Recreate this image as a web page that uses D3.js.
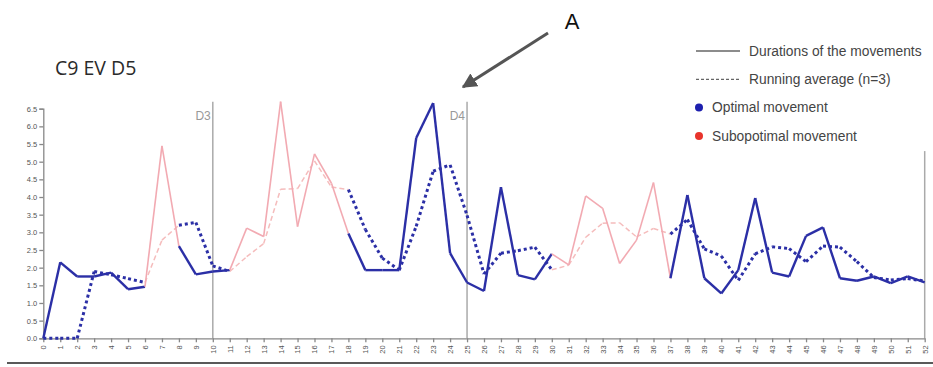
<!DOCTYPE html>
<html>
<head>
<meta charset="utf-8">
<script src="https://cdn.jsdelivr.net/npm/d3@7"></script>
<style>
  body { margin: 0; background: #fff; }
  svg { display: block; font-family: "Liberation Sans", Arial, sans-serif; }
</style>
</head>
<body>
<svg id="chart" width="933" height="367"></svg>
<script>
// movement index 0..52
const movements = d3.range(0, 53);

// duration of each movement (s)
const durations = [
  0.00, 2.15, 1.75, 1.75, 1.86, 1.39, 1.46, 5.45, 2.61, 1.81,
  1.89, 1.93, 3.12, 2.88, 6.70, 3.16, 5.22, 4.39, 2.97, 1.93,
  1.93, 1.93, 5.67, 6.66, 2.41, 1.58, 1.34, 4.28, 1.79, 1.67,
  2.39, 2.08, 4.03, 3.68, 2.12, 2.78, 4.41, 1.70, 4.06, 1.70,
  1.27, 1.93, 3.97, 1.86, 1.75, 2.90, 3.14, 1.70, 1.63, 1.75,
  1.56, 1.75, 1.58
];

// running average (n=3)
const runningAvg = [
  0.00, 0.00, 0.00, 1.89, 1.80, 1.69, 1.58, 2.78, 3.20, 3.28,
  2.05, 1.89, 2.31, 2.68, 4.22, 4.24, 5.02, 4.28, 4.21, 3.08,
  2.27, 1.93, 3.17, 4.73, 4.91, 3.48, 1.82, 2.41, 2.48, 2.58,
  1.94, 2.07, 2.86, 3.26, 3.27, 2.87, 3.11, 2.95, 3.36, 2.53,
  2.33, 1.64, 2.39, 2.59, 2.54, 2.17, 2.61, 2.58, 2.17, 1.72,
  1.65, 1.69, 1.62
];

// movements judged suboptimal (red); the rest are optimal (blue)
const suboptimal = [7, 12, 13, 14, 15, 16, 17, 31, 32, 33, 34, 35, 36];

const yTicks = d3.range(0, 6.51, 0.5);
const markers = [{ at: 10, label: "D3", top: 6.7 }, { at: 25, label: "D4", top: 6.7 }, { at: 52, label: "", top: 5.3 }];

const legendItems = [
  { kind: "line", label: "Durations of the movements" },
  { kind: "dash", label: "Running average (n=3)" },
  { kind: "dot", color: "#1d1fae", label: "Optimal movement" },
  { kind: "dot", color: "#e8342c", label: "Subopotimal movement" }
];

const svg = d3.select("#chart");
const margin = { left: 43.3, right: 8.3, top: 108.7, bottom: 28.7 };
const W = 933, H = 367;

const x = d3.scaleLinear().domain([0, 52]).range([margin.left, W - margin.right]);
const y = d3.scaleLinear().domain([0, 6.5]).range([H - margin.bottom, margin.top]);

const blue = "#2b2fa6", pink = "#f2aab2", pinkDash = "#f5bcbc";
const isSub = i => suboptimal.includes(i);

// title
svg.append("text")
  .attr("x", 55).attr("y", 75)
  .attr("font-family", "'Open Sans', sans-serif")
  .attr("font-size", 19.5).attr("fill", "#2a2a2a")
  .text("C9 EV D5");

// vertical marker lines
markers.forEach(m => {
  svg.append("line")
    .attr("x1", x(m.at)).attr("x2", x(m.at))
    .attr("y1", y(m.top)).attr("y2", y(0))
    .attr("stroke", "#aaa").attr("stroke-width", 1.5);
  if (m.label) {
    svg.append("text")
      .attr("x", x(m.at) - 2).attr("y", y(6.17))
      .attr("text-anchor", "end")
      .attr("font-size", 12).attr("fill", "#999")
      .text(m.label);
  }
});

// axes
const yAxis = svg.append("g")
  .attr("transform", `translate(${margin.left},0)`)
  .call(d3.axisLeft(y).tickValues(yTicks).tickFormat(d3.format(".1f")).tickSize(4).tickSizeOuter(4));
yAxis.selectAll("text").attr("font-size", 7.5).attr("fill", "#555").attr("dx", 1);

const xAxis = svg.append("g")
  .attr("transform", `translate(0,${y(0)})`)
  .call(d3.axisBottom(x).tickValues(movements).tickFormat(d3.format("d")).tickSize(4).tickSizeOuter(0));
xAxis.selectAll("text")
  .attr("font-size", 7.5).attr("fill", "#555")
  .attr("transform", "rotate(-90)")
  .attr("text-anchor", "end")
  .attr("x", -7).attr("y", 0).attr("dy", "0.32em");
svg.selectAll(".domain, .tick line").attr("stroke", "#888").attr("stroke-width", 1.3);

// segments coloured by movement type
function segments(values) {
  return d3.range(0, values.length - 1).map(i => ({
    a: [x(i), y(values[i])],
    b: [x(i + 1), y(values[i + 1])],
    sub: isSub(i) || isSub(i + 1)
  }));
}

const line = d3.line();

svg.append("g").selectAll("path")
  .data(segments(runningAvg))
  .join("path")
  .attr("d", d => line([d.a, d.b]))
  .attr("fill", "none")
  .attr("stroke", d => d.sub ? pinkDash : blue)
  .attr("stroke-width", d => d.sub ? 1.5 : 3)
  .attr("stroke-dasharray", d => d.sub ? "5,3" : "3,3");

svg.append("g").selectAll("path")
  .data(segments(durations))
  .join("path")
  .attr("d", d => line([d.a, d.b]))
  .attr("fill", "none")
  .attr("stroke", d => d.sub ? pink : blue)
  .attr("stroke-width", d => d.sub ? 1.6 : 2.4)
  .attr("stroke-linejoin", "round");

// legend
const lg = svg.append("g");
legendItems.forEach((d, k) => {
  const ly = 51 + k * 28.3;
  if (d.kind === "line" || d.kind === "dash") {
    lg.append("line")
      .attr("x1", 696).attr("x2", 740).attr("y1", ly).attr("y2", ly)
      .attr("stroke", "#666").attr("stroke-width", 1.3)
      .attr("stroke-dasharray", d.kind === "dash" ? "3,2" : null);
  } else {
    lg.append("circle").attr("cx", 699).attr("cy", ly).attr("r", 4).attr("fill", d.color);
  }
  lg.append("text")
    .attr("x", d.kind === "dot" ? 712 : 749).attr("y", ly).attr("dy", "0.35em")
    .attr("font-size", 13.8).attr("fill", "#444")
    .text(d.label);
});

// annotation arrow "A"
const defs = svg.append("defs");
defs.append("marker")
  .attr("id", "head").attr("viewBox", "0 0 10 10")
  .attr("refX", 9).attr("refY", 5)
  .attr("markerWidth", 5).attr("markerHeight", 5)
  .attr("orient", "auto")
  .append("path").attr("d", "M0,0L10,5L0,10Z").attr("fill", "#555");
svg.append("line")
  .attr("x1", 548).attr("y1", 33).attr("x2", 463).attr("y2", 87)
  .attr("stroke", "#555").attr("stroke-width", 3)
  .attr("marker-end", "url(#head)");
svg.append("text")
  .attr("x", 572).attr("y", 29)
  .attr("text-anchor", "middle")
  .attr("font-size", 22).attr("fill", "#111")
  .text("A");

// bottom rule
svg.append("line")
  .attr("x1", 7).attr("x2", 933).attr("y1", 363).attr("y2", 363)
  .attr("stroke", "#222").attr("stroke-width", 1.5);
</script>
</body>
</html>
